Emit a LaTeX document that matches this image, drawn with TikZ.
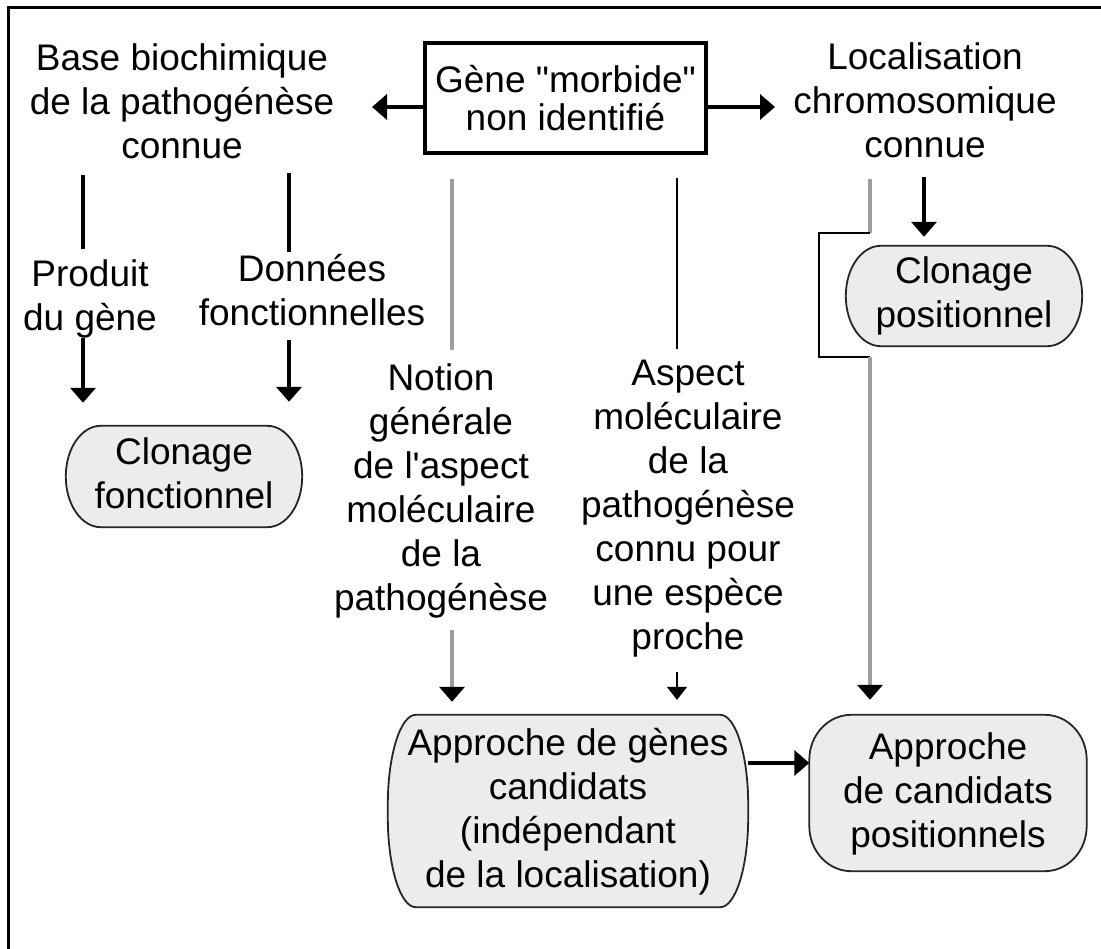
\documentclass[tikz,border=0pt]{standalone}
\usepackage{fontspec}
\newfontfamily\arial{Liberation Sans}
\usetikzlibrary{arrows.meta,backgrounds,calc}
\definecolor{boxfill}{gray}{0.925}
\definecolor{linegray}{gray}{0.62}
\newcommand{\ms}{\rule[-12pt]{0pt}{44pt}}
\newcommand{\ovalbox}[3]{%
  \draw[boxline] ($(#1.north west)+(#2,0)$) -- ($(#1.north east)+(-#2,0)$)
  arc[start angle=90,end angle=0,x radius=#2,y radius=#3]
  -- ($(#1.south east)+(0,#3)$)
  arc[start angle=0,end angle=-90,x radius=#2,y radius=#3]
  -- ($(#1.south west)+(#2,0)$)
  arc[start angle=-90,end angle=-180,x radius=#2,y radius=#3]
  -- ($(#1.north west)+(0,-#3)$)
  arc[start angle=180,end angle=90,x radius=#2,y radius=#3] -- cycle;}
\begin{document}
\begin{tikzpicture}[x=1pt,y=1pt,
  txt/.style={font=\arial\fontsize{37}{44}\selectfont, align=center, inner sep=0pt},
  boxline/.style={draw=black!85, line width=1.8pt, fill=boxfill},
  thk/.style={line width=4pt},
  gline/.style={draw=linegray, line width=3.5pt},
  arrowhd/.style={-{Triangle[width=25pt,length=15pt,color=black]}},
  thinhd/.style={-{Triangle[width=20pt,length=13pt,color=black]}}]
\useasboundingbox (0,0) rectangle (1101,-949);
\draw[line width=3pt, line join=miter] (1101,-8) -- (8,-8) -- (8,-949);

% nodes
\node[draw, line width=4pt, minimum width=281pt, minimum height=110pt,
      font=\arial\fontsize{37}{38}\selectfont, align=center, inner sep=0pt]
      (gene) at (565.5,-98) {Gène "morbide"\\non identifié};
\node[txt] (base) at (182,-105) {\ms Base biochimique\\\ms de la pathogénèse\\\ms connue};
\node[txt] (loc) at (925,-104) {\ms Localisation\\\ms chromosomique\\\ms connue};
\node[txt] (produit) at (90,-299) {\ms Produit\\\ms du gène};
\node[txt] (donnees) at (312,-294) {\ms Données\\\ms fonctionnelles};
\node[txt] (notion) at (441,-490) {\ms Notion\\\ms générale\\\ms de l'aspect\\\ms moléculaire\\\ms de la\\\ms pathogénèse};
\node[txt] (aspect) at (688,-507.5) {\ms Aspect\\\ms moléculaire\\\ms de la\\\ms pathogénèse\\\ms connu pour\\\ms une espèce\\\ms proche};
\node[txt, minimum width=236pt, minimum height=101pt] (clonF) at (184,-476.5) {\ms Clonage\\\ms fonctionnel};
\node[txt, minimum width=236pt, minimum height=100pt] (clonP) at (964,-296) {\ms Clonage\\\ms positionnel};
\node[txt, minimum width=360pt, minimum height=192pt] (approcheG) at (568,-811) {\ms Approche de gènes\\\ms candidats\\\ms (indépendant\\\ms de la localisation)};
\node[txt, minimum width=277pt, minimum height=156pt] (approcheP) at (948,-793) {\ms Approche\\\ms de candidats\\\ms positionnels};

\begin{scope}[on background layer]
  \ovalbox{clonF}{35}{50.5}
  \ovalbox{clonP}{35}{50}
  \ovalbox{approcheG}{28}{90}
  \ovalbox{approcheP}{42}{45}
\end{scope}

% coordinates
\coordinate (lt) at (372,-107);
\coordinate (rt) at (775,-107);
\coordinate (l1a) at (83,-175);  \coordinate (l1b) at (83,-249);
\coordinate (a1a) at (83,-338);
\coordinate (l2a) at (289,-173); \coordinate (l2b) at (289,-252);
\coordinate (a2a) at (289,-340);
\coordinate (g1a) at (452,-179); \coordinate (g1b) at (452,-350);
\coordinate (g1c) at (452,-630);
\coordinate (t1a) at (677,-178); \coordinate (t1b) at (677,-349);
\coordinate (t1c) at (677,-672);
\coordinate (p0) at (924,-177);
\coordinate (b0) at (870,-179); \coordinate (b1) at (870,-233);
\coordinate (b2) at (819,-233); \coordinate (b3) at (819,-357);
\coordinate (b4) at (870,-357);
\coordinate (ay) at (780,-763);

% connectors
\draw[thk,arrowhd] (gene.west |- lt) -- (lt);
\draw[thk,arrowhd] (gene.east |- rt) -- (rt);
\draw[thk] (l1a) -- (l1b);
\draw[thk,arrowhd,shorten >=23pt] (a1a) -- (clonF.north -| a1a);
\draw[thk] (l2a) -- (l2b);
\draw[thk,arrowhd,shorten >=24pt] (a2a) -- (clonF.north -| a2a);
\draw[gline] (g1a) -- (g1b);
\draw[gline,arrowhd,shorten >=13pt] (g1c) -- (approcheG.north -| g1c);
\draw[line width=2pt] (t1a) -- (t1b);
\draw[line width=2pt,thinhd,shorten >=15pt] (t1c) -- (approcheG.north -| t1c);
\draw[line width=3.5pt,arrowhd,shorten >=9pt] (p0) -- (clonP.north -| p0);
\draw[gline] (b0) -- (b1);
\draw[line width=2.5pt, line join=miter] (b1) -- (b2) -- (b3) -- (b4);
\draw[gline,arrowhd,shorten >=15pt] (b4) -- (approcheP.north -| b4);
\draw[thk,arrowhd] (approcheG.east |- ay) -- (approcheP.west |- ay);
\end{tikzpicture}
\end{document}
